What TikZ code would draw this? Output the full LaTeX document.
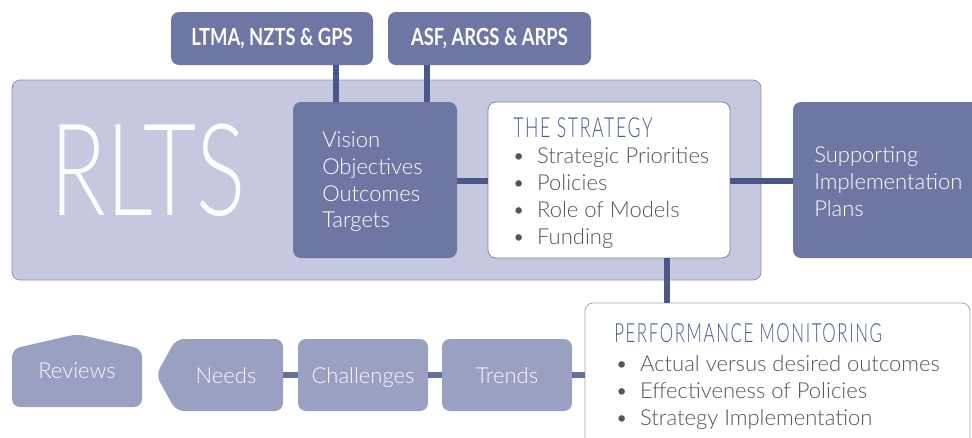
\documentclass[tikz,border=0pt]{standalone}
\usepackage{fontspec}
\usetikzlibrary{fit}
\IfFontExistsTF{Lato Light}{\setmainfont{Lato Light}\newfontfamily\titlef{Lato Light}[FakeStretch=0.64,LetterSpace=6]\newfontfamily\bigf{Lato Light}[FakeStretch=0.72]}{\setmainfont{Lato}\newfontfamily\titlef{Lato}[FakeStretch=0.64,LetterSpace=6]\newfontfamily\bigf{Lato}[FakeStretch=0.72]}
\newfontfamily\labf{Lato}[FakeStretch=0.78]
\definecolor{dark}{HTML}{6E77A3}
\definecolor{lite}{HTML}{C5C8DE}
\definecolor{liteb}{HTML}{8C93B9}
\definecolor{bot}{HTML}{9AA0C2}
\definecolor{conn}{HTML}{4B5789}
\definecolor{ttl}{HTML}{4A5A8E}
\definecolor{tgrey}{HTML}{555555}
\begin{document}
\begin{tikzpicture}[x=0.75pt,y=-0.75pt,
  box/.style={draw=none,inner sep=0pt,rounded corners=6pt},
  darkbox/.style={box,fill=dark},
  botbox/.style={box,fill=bot},
  conn/.style={draw=conn,line width=5.2pt},
  connb/.style={draw=conn!85!white,line width=4.6pt},
  wtext/.style={text=white,font=\fontsize{16.5}{20}\selectfont,align=left,inner sep=0pt},
  btext/.style={text=white!94!bot,font=\fontsize{16.5}{20}\selectfont,inner sep=0pt,anchor=base},
  gtext/.style={text=tgrey,font=\fontsize{16.5}{20.25}\selectfont,align=left,inner sep=0pt},
  toplab/.style={text=white,font=\labf\bfseries\fontsize{17.7}{20}\selectfont},
  ttlstyle/.style={text=ttl,inner sep=0pt,anchor=west}]
\useasboundingbox (0,0) rectangle (972,437);
\clip (0,0) rectangle (972,437);
% big RLTS container
\node[box,fill=lite,draw=liteb,line width=0.6pt,fit={(12,80) (761,280)}] (rlts) {};
\node[text=white,inner sep=0pt,font=\bigf\fontsize{96}{96}\selectfont] (rltstxt) at (148,170) {RLTS};
% top boxes
\node[darkbox,fit={(171,12) (373,65)}] (ltma) {};
\node[toplab] (ltmatxt) at (ltma.center) {LTMA, NZTS \& GPS};
\node[darkbox,fit={(388,12) (591,65)}] (asf) {};
\node[toplab] (asftxt) at (asf.center) {ASF, ARGS \& ARPS};
% coordinates for connectors
\coordinate (c1) at (336,0);
\coordinate (c2) at (427,0);
\coordinate (c3) at (667,0);
\coordinate (r1) at (0,181);
\coordinate (r2) at (0,375);
% main boxes
\node[darkbox,fit={(293,102) (457,258)}] (vis) {};
\node[box,fill=white,draw=liteb!90!black,line width=0.6pt,fit={(488,102) (730,258)}] (strat) {};
\node[darkbox,fit={(793,102) (985,258)}] (supp) {};
\node[box,fill=white,draw=black!35,line width=0.6pt,fit={(585,303) (970,450)}] (perf) {};
% connectors
\draw[conn] (ltma.south -| c1) -- (vis.north -| c1);
\draw[conn] (asf.south -| c2) -- (vis.north -| c2);
\draw[conn] (vis.east |- r1) -- (strat.west |- r1);
\draw[conn] (strat.east |- r1) -- (supp.west |- r1);
\draw[conn] (strat.south -| c3) -- (perf.north -| c3);
% texts of main boxes
\node[wtext,anchor=west] (vistxt) at (322,182) {Vision\\Objectives\\Outcomes\\Targets};
\node[ttlstyle,font=\titlef\fontsize{20.7}{22}\selectfont] (strattl) at (513,128) {THE STRATEGY};
\node[gtext,anchor=west] (strtxt) at (512,198.5) {\textbullet\hspace{0.55em}Strategic Priorities\\\textbullet\hspace{0.55em}Policies\\\textbullet\hspace{0.55em}Role of Models\\\textbullet\hspace{0.55em}Funding};
\node[wtext,anchor=west] (supptxt) at (814,181.5) {Supporting\\Implementation\\Plans};
\node[ttlstyle,font=\titlef\fontsize{19.8}{22}\selectfont] (perfttl) at (614,333) {PERFORMANCE MONITORING};
\node[gtext,anchor=west] (perftxt) at (615,393) {\textbullet\hspace{0.55em}Actual versus desired outcomes\\\textbullet\hspace{0.55em}Effectiveness of Policies\\\textbullet\hspace{0.55em}Strategy Implementation};
% bottom row
\node[botbox,fit={(442,339) (572,411)}] (trends) {};
\node[btext] (trtxt) at (507,383) {Trends};
\node[botbox,fit={(298,339) (428,411)}] (chal) {};
\node[btext] (chtxt) at (363,383) {Challenges};
\path[fill=bot,rounded corners=6pt] (283,339) -- (176,339) -- (156,375) -- (176,411) -- (283,411) -- cycle;
\node[inner sep=0pt,fit={(156,339) (283,411)}] (needs) {};
\node[btext] (ndtxt) at (226,383) {Needs};
\path[fill=bot,rounded corners=6pt] (12,407) -- (12,349) -- (77,334) -- (142,349) -- (142,407) -- cycle;
\node[inner sep=0pt,fit={(12,334) (142,407)}] (rev) {};
\node[btext] (rvtxt) at (77,378) {Reviews};
\draw[connb] (needs.east |- r2) -- (chal.west |- r2);
\draw[connb] (chal.east |- r2) -- (trends.west |- r2);
\draw[connb] (trends.east |- r2) -- (perf.west |- r2);
\end{tikzpicture}
\end{document}
